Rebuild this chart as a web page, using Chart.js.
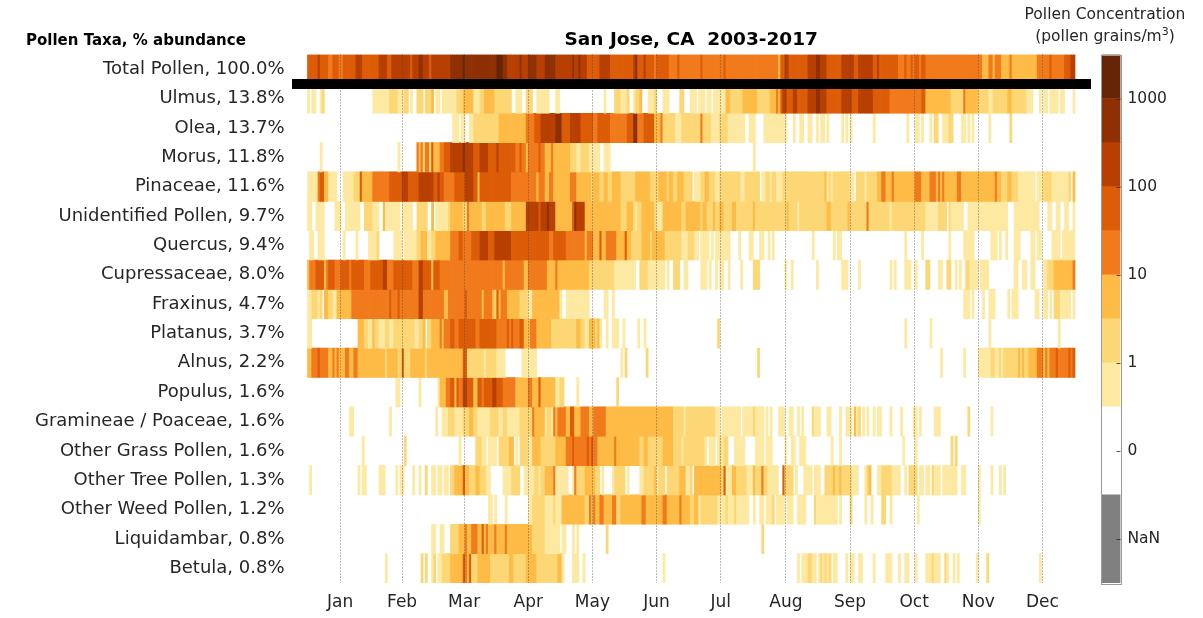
<!DOCTYPE html>
<html><head><meta charset="utf-8">
<script src="https://cdn.jsdelivr.net/npm/chart.js@4"></script>
<style>
html,body{margin:0;padding:0;background:#fff;width:1203px;height:618px;overflow:hidden;font-family:"DejaVu Sans",sans-serif}
canvas{position:absolute;top:0}
.t{position:absolute;white-space:nowrap;color:#262626}
</style></head><body>
<canvas id="main" width="1203" height="618" style="left:0"></canvas>
<canvas id="bar" width="108" height="618" style="left:1095px"></canvas>
<div class="t" style="left:26px;top:31px;font-weight:bold;font-size:15px;color:#000">Pollen Taxa, % abundance</div>
<div class="t" style="left:1005px;width:200px;top:5px;text-align:center;font-size:15.5px">Pollen Concentration</div>
<div class="t" style="left:1005px;width:200px;top:27px;text-align:center;font-size:15.5px;line-height:18px">(pollen grains/m<sup style="font-size:11px;line-height:0">3</sup>)</div>
<script>
const title = "San Jose, CA  2003-2017";
const monthNames = ["Jan","Feb","Mar","Apr","May","Jun","Jul","Aug","Sep","Oct","Nov","Dec"];
const monthStarts = [0,31,59,90,120,151,181,212,243,273,304,334,365];
const rowNames = ["Total Pollen, 100.0%","Ulmus, 13.8%","Olea, 13.7%","Morus, 11.8%","Pinaceae, 11.6%","Unidentified Pollen, 9.7%","Quercus, 9.4%","Cupressaceae, 8.0%","Fraxinus, 4.7%","Platanus, 3.7%","Alnus, 2.2%","Populus, 1.6%","Gramineae / Poaceae, 1.6%","Other Grass Pollen, 1.6%","Other Tree Pollen, 1.3%","Other Weed Pollen, 1.2%","Liquidambar, 0.8%","Betula, 0.8%"];
const barLabels = ["NaN","0","1","10","100","1000"];
const barLabelAt = [1,3,5,7,9,11];
const levelColors = ["#ffffff","#FEE9A3","#FDD775","#FEBB46","#F17A1C","#DC5C07","#B83F02","#8E3003","#662506"];

// Each series: day-of-year where a concentration class starts, then the class (0 = none, 1..8 = colour-bar class)
const total = [0,5,5,6,6,5,10,4,12,5,15,4,17,5,23,6,26,5,31,5,34,6,38,5,40,6,49,5,50,6,53,7,55,6,58,5,59,6,68,7,74,8,75,7,90,8,93,7,95,6,101,7,102,6,105,7,109,6,113,7,118,6,126,7,127,6,129,7,130,6,133,5,139,6,144,5,152,5,155,6,156,7,157,5,160,6,161,5,165,4,166,5,172,4,176,5,177,4,187,5,188,4,198,5,199,4,224,3,225,5,227,6,229,5,238,6,242,7,244,6,247,5,254,6,260,5,262,6,269,5,271,6,272,5,281,4,284,5,285,4,287,5,288,4,289,5,291,4,292,5,294,4,321,3,324,4,326,3,327,4,330,3,334,4,335,3,347,4,353,5,354,4,360,5,363,6];
const ulmus = [0,1,1,0,2,1,4,0,6,1,7,2,8,0,31,1,39,2,43,1,46,2,48,0,49,1,50,0,52,2,55,0,56,2,59,3,60,0,61,1,63,0,64,1,71,2,74,3,79,1,82,2,84,3,89,2,97,0,99,1,102,0,104,2,107,0,109,1,115,0,118,1,120,0,141,1,142,0,146,2,149,1,152,2,153,0,155,1,156,2,158,3,159,0,162,1,165,2,166,0,169,1,172,0,177,2,179,0,182,1,185,0,186,1,189,0,190,1,192,0,193,1,199,3,201,2,207,3,214,2,220,3,223,4,224,3,225,5,226,6,228,5,231,6,233,5,238,6,242,7,244,6,247,5,254,6,259,5,262,6,269,5,277,4,292,5,294,3,306,2,312,4,313,3,319,2,324,1,326,2,333,3,335,2,342,1,345,0,348,1,349,0,350,1,352,0,353,1,357,0,358,1,360,0,364,1];
const olea = [0,0,69,1,72,0,73,1,75,0,77,1,79,2,91,3,104,4,108,5,111,6,118,7,121,5,125,6,130,5,136,4,138,5,144,4,152,5,155,7,157,4,160,5,165,3,168,4,169,2,175,1,178,2,187,4,188,2,192,1,196,2,200,1,208,0,210,1,213,0,217,1,228,0,231,1,232,0,234,1,236,0,238,1,240,0,242,1,243,0,244,1,246,0,247,1,248,0,254,1,255,0,256,1,257,0,258,1,259,0,269,1,270,0,285,1,286,0,289,1,291,0,292,1,293,0,296,1,297,0,298,2,300,0,302,1,305,2,307,0,311,1,313,0,314,1,315,0,316,1,317,0,324,1,325,0,334,2,335,0];
const morus = [0,0,6,1,7,0,43,1,44,0,52,4,53,3,54,4,55,2,56,4,58,2,59,5,60,3,63,4,65,5,68,6,74,7,75,6,79,5,82,6,86,5,90,6,91,5,99,4,101,5,102,4,104,3,105,4,110,5,111,4,113,3,116,4,117,3,125,2,128,1,130,2,134,1,139,0,141,1,144,0,212,1,213,0];
const pinaceae = [0,1,5,4,6,5,8,3,10,1,14,0,17,1,22,2,25,5,26,3,31,4,39,5,45,6,48,5,53,6,60,5,62,6,63,5,65,4,70,5,75,6,79,5,81,3,82,5,97,4,109,3,110,4,113,3,115,4,117,3,125,4,128,3,135,2,136,3,139,2,141,3,143,2,145,3,149,2,156,3,163,2,167,3,171,2,172,3,174,2,176,3,179,2,183,0,184,1,187,2,189,3,191,2,194,1,196,2,206,1,208,2,215,0,216,1,218,2,220,1,221,2,223,1,226,2,246,3,247,1,248,2,249,1,250,2,258,1,260,0,261,2,265,1,266,2,271,3,273,4,275,3,278,4,279,3,289,4,292,3,296,4,299,3,300,4,301,3,302,4,303,3,309,4,311,3,327,4,328,3,330,2,333,3,335,2,338,1,346,0,347,1,350,2,354,1,362,2,363,0,364,3];
const unidentified = [0,1,2,0,4,1,8,0,13,1,16,0,18,1,25,0,27,2,31,1,34,0,36,3,37,1,44,0,45,1,50,0,52,2,57,0,59,3,60,0,61,1,67,2,68,3,74,2,76,4,77,3,83,2,85,3,94,2,97,3,104,6,110,5,111,6,114,7,115,6,118,3,126,5,127,7,128,6,132,3,149,2,152,3,155,2,156,1,157,2,159,3,165,2,166,1,169,3,178,2,180,3,187,2,188,3,190,2,193,3,194,2,196,3,198,2,202,3,204,2,212,3,213,2,228,3,229,2,233,1,234,2,247,3,249,2,257,3,258,2,266,4,267,2,277,1,278,2,294,1,300,2,304,0,305,2,306,1,312,0,314,1,333,0,336,1,348,0,352,1,354,0,356,1,358,0,360,1,362,0,364,1];
const quercus = [0,0,1,1,3,0,5,1,8,0,17,1,18,0,23,1,24,0,29,1,33,2,34,0,41,1,45,0,46,1,52,2,54,3,57,1,59,2,61,3,68,4,72,5,74,4,78,5,82,6,86,5,89,6,97,5,115,4,117,5,123,4,132,3,133,4,136,3,139,5,140,3,142,4,147,3,151,5,152,3,154,2,159,3,163,2,164,3,170,2,178,1,181,2,184,1,186,0,187,1,191,0,192,1,193,0,194,1,201,0,205,1,206,0,210,1,212,0,215,1,217,0,219,1,220,0,221,1,222,0,240,1,241,0,250,1,251,0,252,1,254,0,284,1,285,0,292,1,293,0,305,1,306,0,312,1,317,0,325,1,328,0,329,1,330,0,332,1,333,0,336,1,339,0,344,1,346,0,347,1,349,0,354,1,358,0,359,1];
const cupressaceae = [0,3,1,4,4,5,8,3,9,4,10,5,13,4,16,5,20,4,21,5,27,4,30,5,36,6,38,4,41,5,50,4,53,6,55,5,59,3,60,5,63,4,93,3,94,4,103,3,105,4,114,3,118,4,119,3,134,2,146,1,156,0,158,2,162,1,170,0,171,1,172,0,174,2,177,0,179,1,181,0,187,1,190,0,191,1,192,0,194,1,195,0,196,1,198,0,200,1,201,0,206,1,207,0,212,2,215,0,227,1,228,0,230,1,231,0,242,1,243,0,254,1,257,0,262,1,263,0,277,1,278,0,279,1,280,0,284,1,287,0,289,1,290,0,294,2,296,0,300,1,302,0,304,2,306,0,308,1,309,0,310,1,311,0,313,2,315,1,319,0,320,1,324,0,336,1,338,0,340,1,342,0,344,1,346,0,350,1,352,2,355,3,364,4];
const fraxinus = [0,1,2,2,5,1,6,2,7,0,8,3,10,2,12,1,14,3,21,4,39,5,40,4,43,5,44,4,53,6,55,4,65,3,67,4,75,5,76,4,83,3,84,4,88,3,89,2,90,5,91,3,92,4,95,3,101,2,105,1,107,3,120,1,121,0,123,1,134,0,141,1,143,0,145,1,146,0,312,1,315,0,316,1,317,0,321,1,322,0,324,1,327,0,333,1,334,0,335,1,338,0,346,1,348,0,350,1,352,0,353,1,354,0,355,2,358,1,363,0,364,1];
const platanus = [0,1,2,0,24,3,27,2,29,1,31,3,32,2,34,1,37,2,39,1,41,2,51,1,53,2,55,3,56,0,57,2,59,3,63,4,64,3,65,4,68,5,70,4,72,5,80,4,82,5,90,4,95,5,96,4,97,5,98,4,101,5,103,3,106,4,109,3,116,2,128,3,130,2,132,1,134,3,137,2,138,3,139,1,140,0,142,1,143,0,145,1,148,0,150,1,151,0,157,1,158,0,160,1,161,0,195,2,196,0,284,1,285,0,296,1,297,0,324,1,325,0,357,1,358,0];
const alnus = [0,3,2,4,5,5,6,4,10,3,12,4,13,3,14,4,15,3,18,4,20,3,22,4,24,3,37,2,38,3,43,2,45,5,46,2,49,3,56,2,57,3,74,5,76,2,84,1,85,2,90,1,94,0,102,1,109,0,149,1,150,0,151,2,152,0,161,2,162,0,214,2,215,0,301,1,302,0,312,1,313,0,319,1,325,2,327,1,329,2,330,1,331,2,338,3,339,2,340,3,341,2,343,3,347,4,350,3,351,4,352,3,353,4,356,5,357,4,362,5,363,4,364,5];
const populus = [0,0,42,1,44,0,53,1,54,0,62,1,63,3,66,4,68,5,70,3,71,5,72,4,74,6,76,5,79,3,81,5,83,4,84,5,88,6,90,5,93,4,99,3,105,4,107,3,110,5,111,3,118,1,120,2,122,0,128,1,129,0,147,2,148,0];
const gramineae = [0,0,20,1,22,0,39,1,40,0,61,1,62,0,64,1,67,2,70,1,74,2,77,3,79,2,81,1,87,2,91,1,93,2,95,1,101,2,107,4,108,3,113,1,114,2,116,1,117,4,118,3,119,4,123,3,125,5,127,3,130,4,134,3,136,4,142,3,174,2,179,1,180,2,194,1,196,0,197,1,206,0,207,1,212,2,213,1,217,0,218,1,219,0,220,1,221,0,224,1,227,0,229,1,231,0,233,1,234,0,235,1,236,0,240,2,241,1,244,0,247,1,249,0,253,1,254,0,256,1,259,0,260,3,261,1,262,2,263,0,264,1,265,0,266,1,267,0,269,1,270,0,271,1,273,0,277,1,278,0,282,1,283,0,288,1,290,0,291,1,292,0,298,1,301,0,314,2,315,0,325,1,326,0];
const otherGrass = [0,0,26,1,27,0,46,2,47,0,72,1,73,0,80,2,83,1,85,0,86,1,90,0,91,2,96,3,98,0,99,1,100,0,101,2,105,1,107,3,111,2,118,3,123,4,126,5,127,4,133,5,134,4,135,5,136,4,138,3,146,4,147,3,158,2,160,3,162,2,169,3,174,2,178,1,179,2,189,1,190,0,191,1,194,0,195,1,196,2,197,1,198,2,200,0,203,1,208,0,213,1,217,0,218,1,221,0,227,1,228,0,230,1,232,0,234,1,237,0,249,1,250,0,253,1,254,0,283,1,284,0,289,1,290,0,306,2,307,0,308,2,309,0];
const otherTree = [0,0,1,1,2,0,24,1,25,0,26,1,28,0,34,1,37,0,42,1,43,0,44,1,46,0,50,1,51,0,53,1,54,0,56,2,57,0,59,1,61,0,62,1,64,0,65,1,67,0,68,2,70,3,74,5,75,3,77,2,80,3,82,2,85,1,87,0,93,1,97,2,101,0,103,1,108,2,110,1,111,2,113,3,117,4,118,1,124,0,126,1,127,4,128,2,132,3,137,2,139,0,140,1,141,0,145,1,146,2,151,0,152,1,153,0,158,1,160,2,165,3,166,1,167,2,170,0,171,2,177,3,180,1,182,2,183,0,184,3,197,2,198,5,199,1,202,3,204,2,209,1,212,3,213,2,216,4,217,2,219,1,224,0,226,5,227,2,231,0,232,1,233,0,236,1,240,0,241,1,244,0,246,2,250,3,251,2,253,3,254,2,259,1,262,0,265,1,266,2,267,3,268,0,271,1,273,2,278,1,282,0,284,1,285,0,286,2,290,0,291,1,293,0,294,1,296,0,297,2,298,1,301,0,302,1,309,0,311,1,313,0,319,1,320,0,325,1,326,0,329,1,330,0,331,1,332,0];
const otherWeed = [0,0,86,1,88,0,89,1,90,0,94,1,95,0,105,1,107,2,113,1,117,2,118,1,121,3,132,2,134,4,135,3,136,4,137,3,139,4,141,3,145,4,147,2,149,3,159,4,161,3,169,4,171,3,177,4,178,3,182,2,184,3,186,1,187,2,195,1,199,2,200,1,203,2,204,1,210,0,212,1,213,0,215,1,217,0,218,1,221,2,222,0,223,1,227,0,228,1,231,0,233,1,237,0,241,2,242,1,252,0,253,1,254,0,258,2,259,0,265,1,266,0,268,1,269,0,273,2,275,0,277,1,278,0,290,1,291,0,319,1,320,0];
const liquidambar = [0,0,59,1,61,0,63,1,65,0,68,2,72,3,75,4,76,3,78,4,81,3,83,5,84,3,85,4,86,3,89,4,90,3,94,4,95,3,107,2,113,1,120,0,121,1,123,0,126,1,127,0,128,1,129,0,142,2,143,0,216,2,217,0];
const betula = [0,0,37,1,38,0,54,2,55,0,56,2,57,0,59,1,60,2,61,0,62,1,64,2,68,3,74,5,75,4,76,3,77,5,78,2,81,3,87,2,96,3,98,2,104,3,109,2,119,3,121,1,122,0,126,1,129,0,131,1,132,0,169,1,170,0,233,1,234,0,235,1,238,2,240,1,242,0,243,1,244,2,245,1,246,2,247,1,248,2,249,0,250,1,252,0,256,1,257,0,258,1,260,0,262,1,264,0,269,1,270,0,275,1,278,0,281,1,282,0,284,1,286,0,289,1,290,0,294,1,297,2,298,1,301,0,303,2,304,1,305,0,307,1,308,0,309,1,310,0,318,1,319,0,323,2,324,0,348,1,349,0];
const series = [total,ulmus,olea,morus,pinaceae,unidentified,quercus,cupressaceae,fraxinus,platanus,alnus,populus,gramineae,otherGrass,otherTree,otherWeed,liquidambar,betula];

function expand(s){
  const out=[];
  for(let i=0;i<s.length;i+=2){
    const end=i+2<s.length?s[i+2]:365;
    for(let d=s[i];d<end;d++) out[d]=s[i+1];
  }
  return out;
}
const mids = monthNames.map((_,i)=>(monthStarts[i]+monthStarts[i+1])/2);

const datasets = series.map((s,r)=>{
  const lv = expand(s), data=[], colors=[];
  lv.forEach((l,d)=>{ if(l>0){ data.push({x:d+0.5,y:[r,r+1]}); colors.push(levelColors[l]); } });
  return {label:rowNames[r],data,backgroundColor:colors,borderWidth:0,inflateAmount:0.34,
    grouped:false,barPercentage:1,categoryPercentage:1};
});

new Chart(document.getElementById('main'),{
  type:'bar',
  data:{datasets},
  options:{
    responsive:false,animation:false,events:[],
    layout:{padding:{left:0,right:112,top:29,bottom:0}},
    plugins:{legend:{display:false},tooltip:{enabled:false},
      title:{display:true,text:title,fullSize:false,color:'#000',
        font:{family:'"DejaVu Sans"',size:18.5,weight:'bold',lineHeight:1.2},padding:{top:0,bottom:3.3}}},
    scales:{
      x:{type:'linear',min:0,max:365,
        afterBuildTicks(s){ s.ticks=[...monthStarts.map(v=>({value:v})),...mids.map(v=>({value:v}))]; },
        afterFit(s){ s.height=35; },
        border:{display:false,dash:[1,2]},
        grid:{z:1,drawTicks:false,lineWidth:1,color:c=>c.tick&&monthStarts.includes(c.tick.value)?'rgba(70,70,70,0.75)':'rgba(0,0,0,0)'},
        ticks:{autoSkip:false,maxRotation:0,padding:9,color:'#262626',font:{family:'"DejaVu Sans"',size:17},
          callback(v){ const i=mids.indexOf(v); return i>=0?monthNames[i]:''; }}
      },
      y:{type:'linear',min:0,max:18,reverse:true,
        afterBuildTicks(s){ s.ticks=[...rowNames.map((_,i)=>({value:i+0.5})),{value:1}]; },
        afterFit(s){ s.width=291.5; },
        border:{display:false},
        grid:{z:2,drawTicks:false,lineWidth:10,color:c=>c.tick&&c.tick.value===1?'#000':'rgba(0,0,0,0)'},
        ticks:{autoSkip:false,padding:7,color:'#262626',font:{family:'"DejaVu Sans"',size:18},
          callback(v){ return Number.isInteger(v)?'':rowNames[Math.floor(v)]; }}
      }
    }
  }
});

// colour bar
const segs = [["#808080",0,2],["#ffffff",2,4],...levelColors.slice(1).map((c,i)=>[c,4+i,5+i])];
const barTicks = {id:'barTicks',afterDraw(ch){
  const c=ch.ctx,a=ch.chartArea,y=ch.scales.y; c.save();
  c.strokeStyle='rgba(40,40,40,0.8)';c.lineWidth=1;
  barLabelAt.forEach(v=>{const p=Math.round(y.getPixelForValue(v))+0.5;c.beginPath();c.moveTo(a.right-4,p);c.lineTo(a.right,p);c.stroke();});
  c.strokeStyle='#9a9a9a';c.strokeRect(Math.round(a.left)-0.5,Math.round(a.top)+0.5,Math.round(a.right-a.left)+1,Math.round(a.bottom-a.top));
  c.restore();
}};
new Chart(document.getElementById('bar'),{
  type:'bar',
  data:{labels:['c'],datasets:segs.map(s=>({data:[[s[1],s[2]]],backgroundColor:s[0],borderWidth:0,grouped:false,barPercentage:1,categoryPercentage:1}))},
  options:{
    responsive:false,animation:false,events:[],
    layout:{padding:{left:6.5,right:0,top:54.5,bottom:35}},
    plugins:{legend:{display:false},tooltip:{enabled:false},title:{display:false}},
    scales:{
      x:{display:false},
      y:{type:'linear',position:'right',min:0,max:12,
        afterBuildTicks(s){ s.ticks=barLabelAt.map(v=>({value:v})); },
        afterFit(s){ s.width=82.5; },
        border:{display:false},
        grid:{display:false,drawTicks:false},
        ticks:{autoSkip:false,padding:7,color:'#262626',font:{family:'"DejaVu Sans"',size:15.5},
          callback(v){ return barLabels[barLabelAt.indexOf(v)]; }}
      }
    }
  },
  plugins:[barTicks]
});
</script>
</body></html>
